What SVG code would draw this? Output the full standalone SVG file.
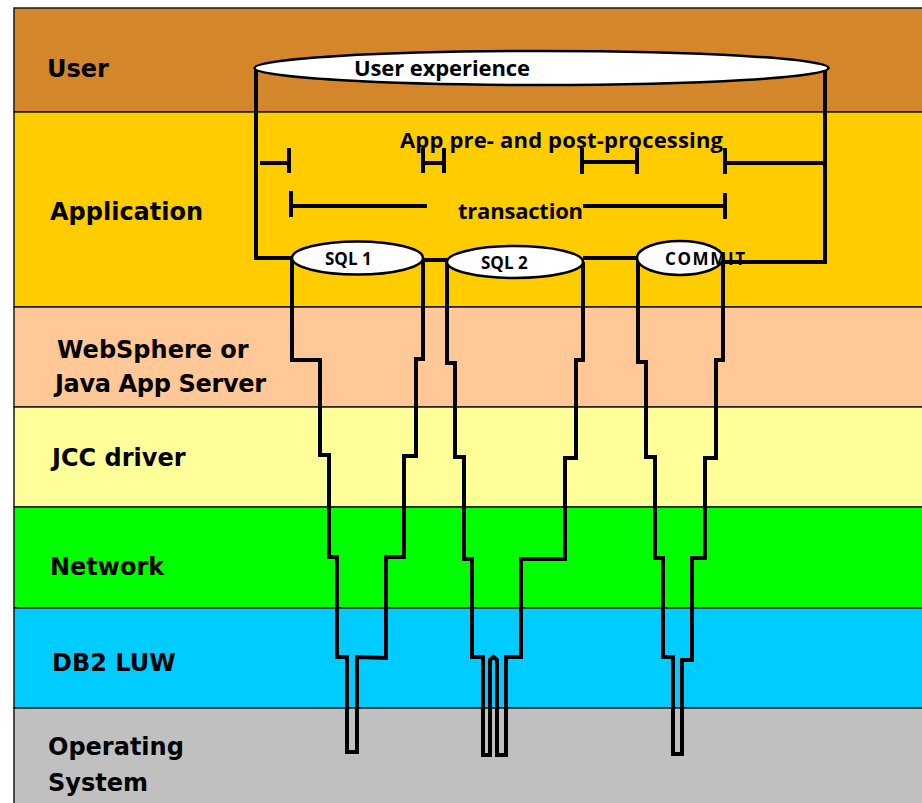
<svg xmlns="http://www.w3.org/2000/svg" width="922" height="803" viewBox="0 0 922 803">
<style>
.band{stroke:#1a1a1a;stroke-width:1.5}
.lbl{font-family:"DejaVu Sans",Verdana,sans-serif;font-weight:bold;font-size:24px;fill:#000}
.in{font-family:"Open Sans","Liberation Sans",sans-serif;font-weight:bold;fill:#000}
.ln{fill:none;stroke:#000;stroke-width:4;stroke-linejoin:miter}
.ell{fill:#fff;stroke:#000;stroke-width:2.5}
</style>
<rect width="922" height="803" fill="#fff"/>
<g id="layer-user"><rect class="band" x="14" y="8" width="910" height="104" fill="#D4872A"/><text class="lbl" x="47" y="77">User</text></g>
<g id="layer-application"><rect class="band" x="14" y="112" width="910" height="195" fill="#FFCC00"/><text class="lbl" x="50" y="220">Application</text></g>
<g id="layer-websphere"><rect class="band" x="14" y="307" width="910" height="100" fill="#FFC896"/><text class="lbl" x="57" y="358">WebSphere or</text><text class="lbl" x="55" y="392" textLength="211">Java App Server</text></g>
<g id="layer-jcc"><rect class="band" x="14" y="407" width="910" height="100" fill="#FFFF99"/><text class="lbl" x="52" y="466">JCC driver</text></g>
<g id="layer-network"><rect class="band" x="14" y="507" width="910" height="101" fill="#00FF00"/><text class="lbl" x="50" y="575">Network</text></g>
<g id="layer-db2"><rect class="band" x="14" y="608" width="910" height="100" fill="#00CCFF"/><text class="lbl" x="52" y="671">DB2 LUW</text></g>
<g id="layer-os"><rect class="band" x="14" y="708" width="910" height="100" fill="#C0C0C0"/><text class="lbl" x="48" y="755">Operating</text><text class="lbl" x="48" y="791">System</text></g>
<g id="connectors">
<polyline class="ln" points="256,68 256,258 292,258"/>
<polyline class="ln" points="825,68 825,262 722,262"/>
<line class="ln" x1="423" y1="260" x2="447" y2="260"/>
<line class="ln" x1="583" y1="258" x2="637" y2="258"/>
<polyline class="ln" points="292,258 292,360 320,360 320,455 329,455 329,557 337,557 337,657 347,657 347,752 357,752 357,657 386,658 386,557 404,557 404,456 416,456 416,359 423,359 423,258"/>
<polyline class="ln" points="447,262 447,363 455,363 455,457 464,457 464,559 472,559 472,657 483,657 483,755 490,755 490,660 493.5,657 497,660 497,755 506,755 506,657 521,657 521,559 565,559 565,458 576,458 576,360 583,360 583,262"/>
<polyline class="ln" points="638,258 638,362 646,362 646,457 655,457 655,558 663,558 663,657 673,657 673,754 682,754 682,660 692,660 692,558 705,558 705,458 716,458 716,360 723,360 723,258"/>
<polyline class="ln" points="260,163 289,163"/><line class="ln" x1="289" y1="148" x2="289" y2="173"/>
<line class="ln" x1="423" y1="163" x2="444" y2="163"/><line class="ln" x1="423" y1="148" x2="423" y2="173"/><line class="ln" x1="444" y1="148" x2="444" y2="173"/>
<line class="ln" x1="582" y1="162" x2="637" y2="162"/><line class="ln" x1="582" y1="148" x2="582" y2="174"/><line class="ln" x1="637" y1="148" x2="637" y2="174"/>
<line class="ln" x1="725" y1="163" x2="825" y2="163"/><line class="ln" x1="725" y1="148" x2="725" y2="174"/>
<line class="ln" x1="291" y1="206" x2="427" y2="206"/><line class="ln" x1="291" y1="191" x2="291" y2="217"/>
<line class="ln" x1="583" y1="206" x2="725" y2="206"/><line class="ln" x1="725" y1="193" x2="725" y2="219"/>
</g>
<g id="user-experience"><ellipse class="ell" cx="541.5" cy="68" rx="287" ry="17"/><text class="in" x="354" y="76" font-size="22" textLength="176">User experience</text></g>
<g id="app-processing"><text class="in" x="400" y="148" font-size="22" textLength="323">App pre- and post-processing</text></g>
<g id="transaction"><text class="in" x="458" y="219" font-size="22" textLength="125">transaction</text></g>
<g id="sql1"><ellipse class="ell" cx="357.5" cy="258" rx="65.5" ry="16.5"/><text class="in" x="325" y="265" font-size="17">SQL 1</text></g>
<g id="sql2"><ellipse class="ell" cx="515" cy="262" rx="68" ry="16"/><text class="in" x="481" y="269" font-size="17">SQL 2</text></g>
<g id="commit"><ellipse class="ell" cx="680" cy="258" rx="43" ry="17"/><text class="in" x="665" y="265" font-size="17" textLength="80">COMMIT</text></g>
</svg>
